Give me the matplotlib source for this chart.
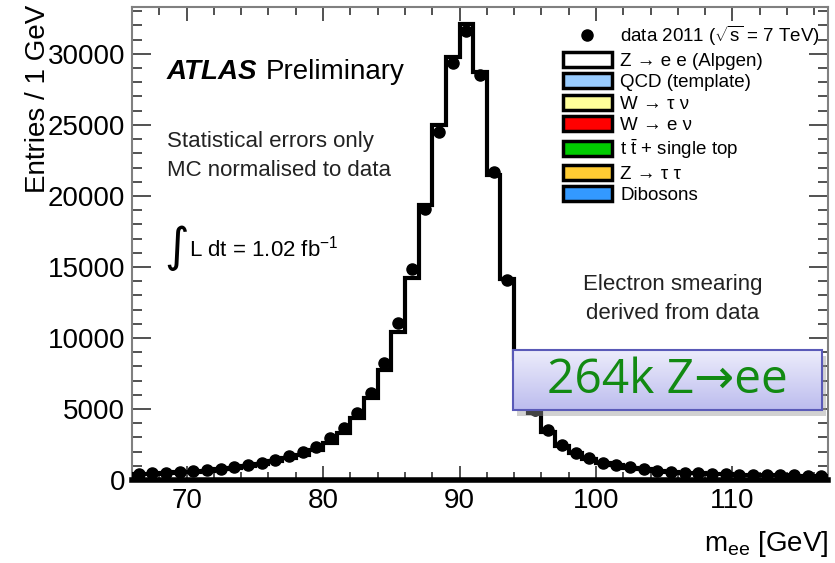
import numpy as np
import matplotlib
matplotlib.use("Agg")
import matplotlib.pyplot as plt
from matplotlib.patches import Patch, Rectangle
from matplotlib.lines import Line2D

plt.rcParams['font.family'] = ['Liberation Sans', 'DejaVu Sans']
plt.rcParams['mathtext.fontset'] = 'custom'
plt.rcParams['mathtext.rm'] = 'Liberation Sans'
plt.rcParams['mathtext.it'] = 'Liberation Sans:italic'
plt.rcParams['mathtext.bf'] = 'Liberation Sans:bold'

# 1 GeV bins from 66 to 117 GeV
edges = np.arange(66, 118)
data = [440, 470, 510, 560, 620, 700, 800, 920, 1060, 1230, 1440, 1680, 1990,
        2340, 2930, 3640, 4690, 6100, 8260, 11070, 14830, 19060, 24520, 29330,
        31600, 28520, 21700, 14050, 8700, 4900, 3500, 2460, 1900, 1530, 1220,
        1060, 890, 775, 655, 585, 515, 470, 420, 400, 380, 360, 345, 330, 320,
        305, 295]
mc_zee = [420, 450, 490, 535, 590, 665, 760, 870, 1000, 1160, 1350, 1570, 1750,
          2100, 2580, 3290, 4340, 5770, 7740, 10440, 14200, 19360, 25000, 29800,
          32100, 28750, 21470, 14150, 8500, 4700, 3400, 2420, 1880, 1510, 1210,
          1050, 880, 765, 650, 580, 510, 465, 415, 395, 375, 355, 340, 325, 315,
          300, 290]

legend_labels = [r"data 2011 ($\sqrt{\mathregular{s}}$ = 7 TeV)", "Z → e e (Alpgen)",
                 "QCD (template)", "W → τ ν", "W → e ν",
                 r"t $\bar{\mathregular{t}}$ + single top", "Z → τ τ", "Dibosons"]
bkg_colors = ['white', '#99ccff', '#ffff99', '#ff0000', '#00cc00', '#ffcc33', '#3399ff']

fig = plt.figure(figsize=(8.35, 5.63), dpi=100)
ax = fig.add_axes([132 / 835, 1 - 480 / 563, 696 / 835, 473 / 563])

centers = 0.5 * (edges[:-1] + edges[1:])
ax.stairs(mc_zee, edges, color='black', lw=3, zorder=3)
ax.plot(centers, data, 'o', color='black', ms=8, zorder=4)

ax.set_xlim(66, 117)
ax.set_ylim(0, 33300)
ax.set_xticks([70, 80, 90, 100, 110])
ax.set_xticks(np.arange(68, 117, 2), minor=True)
ax.set_yticks(np.arange(0, 30001, 5000))
ax.set_yticks(np.arange(0, 33001, 1000), minor=True)
ax.tick_params(axis='both', which='both', direction='in', top=True, right=True,
               labelsize=20, colors='#333333', labelcolor='black')
ax.tick_params(axis='x', which='major', length=10, width=1.2, pad=6)
ax.tick_params(axis='x', which='minor', length=6, width=1.2)
ax.tick_params(axis='y', which='major', length=14, width=1.2, pad=5)
ax.tick_params(axis='y', which='minor', length=7, width=1.2)
for s in ['left', 'top', 'right']:
    ax.spines[s].set_color('#808080')
    ax.spines[s].set_linewidth(1.5)
ax.spines['bottom'].set_color('black')
ax.spines['bottom'].set_linewidth(4)

fig.text(38 / 835, 1 - 5 / 563, "Entries / 1 GeV", rotation=90, ha='center',
         va='top', fontsize=20)
fig.text(828 / 835, 1 - 551 / 563, r"m$_{\mathregular{ee}}$ [GeV]", ha='right',
         va='baseline', fontsize=20)

ax.text(0.050, 0.848, "ATLAS", transform=ax.transAxes, fontsize=20,
        fontweight='bold', fontstyle='italic', va='baseline')
ax.text(0.192, 0.848, "Preliminary", transform=ax.transAxes, fontsize=20,
        va='baseline')
ax.text(0.050, 0.705, "Statistical errors only", transform=ax.transAxes,
        fontsize=16, va='baseline', color='#222222')
ax.text(0.050, 0.643, "MC normalised to data", transform=ax.transAxes,
        fontsize=16, va='baseline', color='#222222')
ax.text(0.047, 0.462, "∫", transform=ax.transAxes, fontsize=34, va='baseline',
        family=['DejaVu Sans'])
ax.text(0.0815, 0.472, r"L dt = 1.02 fb$^{\mathregular{-1}}$",
        transform=ax.transAxes, fontsize=16, va='baseline')
ax.text(0.7766, 0.4017, "Electron smearing", transform=ax.transAxes,
        fontsize=16, ha='center', va='baseline', color='#222222')
ax.text(0.7766, 0.3397, "derived from data", transform=ax.transAxes,
        fontsize=16, ha='center', va='baseline', color='#222222')

handles = [Line2D([], [], marker='o', ls='none', color='black', ms=8)]
for c in bkg_colors:
    handles.append(Patch(facecolor=c, edgecolor='black', lw=2.5))
leg = ax.legend(handles, legend_labels, loc='upper left',
                bbox_to_anchor=(563 / 835, 1 - 24 / 563),
                bbox_transform=fig.transFigure, frameon=False, fontsize=13.5,
                handlelength=2.6, handleheight=0.85, handletextpad=0.45,
                labelspacing=0.19, borderpad=0, borderaxespad=0)
leg.set_zorder(6)

# highlight box
bx0, bx1, by0, by1 = 0.547, 0.991, 0.148, 0.275
shadow = Rectangle((bx0 + 0.006, by0 - 0.012), bx1 - bx0, by1 - by0,
                   transform=ax.transAxes, facecolor='#999999', alpha=0.45,
                   edgecolor='none', zorder=7, clip_on=False)
ax.add_patch(shadow)
grad = np.linspace(0, 1, 64).reshape(-1, 1)
top_c = np.array([0.93, 0.93, 0.985])
bot_c = np.array([0.74, 0.74, 0.935])
img = top_c[None, None, :] * (1 - grad[:, :, None]) + bot_c[None, None, :] * grad[:, :, None]
ax.imshow(img, extent=(bx0, bx1, by0, by1), transform=ax.transAxes,
          aspect='auto', zorder=8, clip_on=False, origin='upper')
frame = Rectangle((bx0, by0), bx1 - bx0, by1 - by0, transform=ax.transAxes,
                  facecolor='none', edgecolor='#5a5ab8', lw=1.5, zorder=9,
                  clip_on=False)
ax.add_patch(frame)
ax.text(0.7687, 0.2114, "264k Z→ee", transform=ax.transAxes, fontsize=34.5,
        ha='center', va='center', color='#128a12', zorder=10,
        family=['Open Sans', 'DejaVu Sans'])

ax.set_xlim(66, 117)
ax.set_ylim(0, 33300)
fig.savefig("out.png", dpi=100)
